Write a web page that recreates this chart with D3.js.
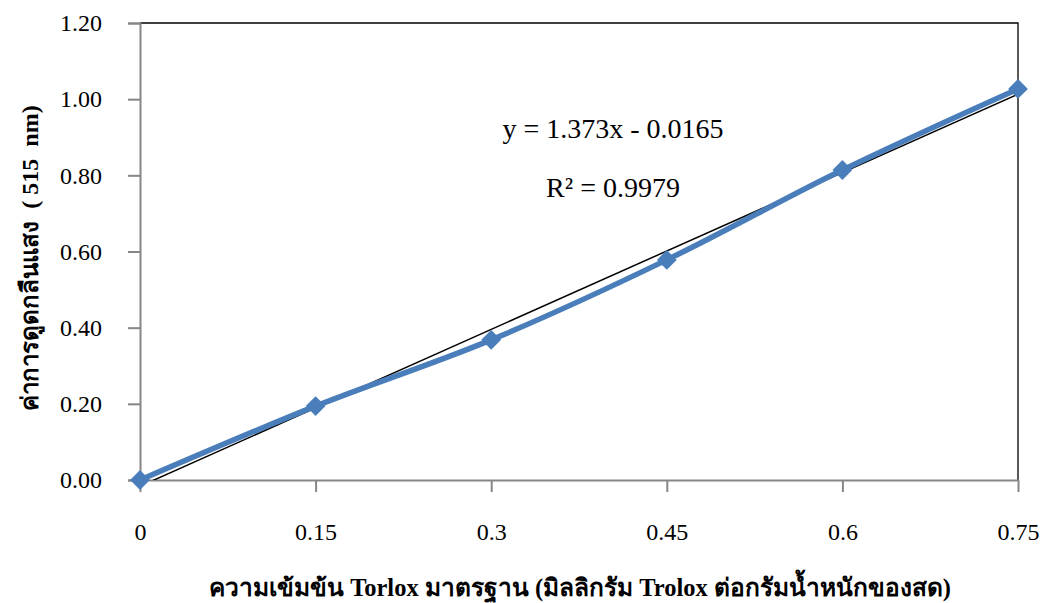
<!DOCTYPE html>
<html>
<head>
<meta charset="utf-8">
<script src="https://cdn.jsdelivr.net/npm/d3@7"></script>
<style>
  body { margin: 0; background: #fff; }
  svg text { font-family: "Liberation Serif", "Times New Roman", serif; fill: #000; }
</style>
</head>
<body>
<script>
// data
const concentrations = [0, 0.15, 0.3, 0.45, 0.6, 0.75];
const absorbance = [0.0, 0.194, 0.368, 0.578, 0.814, 1.027];
const xTickLabels = ['0', '0.15', '0.3', '0.45', '0.6', '0.75'];
const yTicks = [0, 0.2, 0.4, 0.6, 0.8, 1.0, 1.2];
const trendSlope = 1.373;
const trendIntercept = -0.0165;
const equationText = 'y = 1.373x - 0.0165';
const r2Text = 'R² = 0.9979';
const xTitle = 'ความเข้มข้น Torlox มาตรฐาน (มิลลิกรัม Trolox ต่อกรัมน้ำหนักของสด)';
const yTitle = 'ค่าการดูดกลืนแสง\u00a0\u00a0(\u00a0515\u00a0\u00a0nm)';

const width = 1044, height = 603;
const margins = { top: 23, right: 26, bottom: 123, left: 140 };
const pw = width - margins.left - margins.right;
const ph = height - margins.top - margins.bottom;

const svg = d3.select('body').append('svg')
    .attr('width', width)
    .attr('height', height);

const g = svg.append('g')
    .attr('transform', `translate(${margins.left}, ${margins.top})`);

const x = d3.scaleLinear().domain([0, 0.75]).range([0, pw]);
const y = d3.scaleLinear().domain([0, 1.2]).range([ph, 0]);

// plot frame (top and right in black)
g.append('path')
    .attr('d', `M0,0H${pw}V${ph}`)
    .attr('fill', 'none')
    .attr('stroke', '#000')
    .attr('stroke-width', 1.3);

// y axis
const yAxis = g.append('g')
    .call(d3.axisLeft(y).tickValues(yTicks).tickFormat(d3.format('.2f')).tickSize(12).tickPadding(26));
yAxis.select('.domain').attr('stroke', '#868686').attr('stroke-width', 2);
yAxis.selectAll('.tick line').attr('stroke', '#868686').attr('stroke-width', 2);
yAxis.selectAll('text').attr('font-size', 24).attr('font-family', '"Liberation Serif", serif');

// x axis
const xAxis = g.append('g')
    .attr('transform', `translate(0,${ph})`)
    .call(d3.axisBottom(x).tickValues(concentrations).tickFormat((d, i) => xTickLabels[i]).tickSize(12).tickSizeOuter(0).tickPadding(31));
xAxis.select('.domain').attr('stroke', '#868686').attr('stroke-width', 2);
xAxis.selectAll('.tick line').attr('stroke', '#868686').attr('stroke-width', 2);
xAxis.selectAll('text').attr('font-size', 24).attr('font-family', '"Liberation Serif", serif');

// trendline, clipped to plot area
g.append('clipPath').attr('id', 'plot-clip')
    .append('rect').attr('width', pw).attr('height', ph);

g.append('line')
    .attr('clip-path', 'url(#plot-clip)')
    .attr('x1', x(0)).attr('y1', y(trendIntercept))
    .attr('x2', x(0.75)).attr('y2', y(trendSlope * 0.75 + trendIntercept))
    .attr('stroke', '#000')
    .attr('stroke-width', 1.5);

// data series
const pts = concentrations.map((c, i) => [c, absorbance[i]]);
const line = d3.line().x(d => x(d[0])).y(d => y(d[1])).curve(d3.curveCatmullRom.alpha(0.5));

g.append('path')
    .datum(pts)
    .attr('d', line)
    .attr('fill', 'none')
    .attr('stroke', '#4a7ebb')
    .attr('stroke-width', 5.5)
    .attr('stroke-linejoin', 'round');

g.selectAll('path.marker')
    .data(pts)
    .enter().append('path')
    .attr('class', 'marker')
    .attr('d', d3.symbol().type(d3.symbolDiamond2).size(250))
    .attr('transform', d => `translate(${x(d[0])},${y(d[1])})`)
    .attr('fill', '#4a7ebb');

// equation labels
g.append('text')
    .attr('x', 473).attr('y', 115)
    .attr('text-anchor', 'middle')
    .attr('font-size', 28)
    .text(equationText);
g.append('text')
    .attr('x', 473).attr('y', 174)
    .attr('text-anchor', 'middle')
    .attr('font-size', 28)
    .text(r2Text);

// axis titles
svg.append('text')
    .attr('x', 580).attr('y', 596)
    .attr('text-anchor', 'middle')
    .attr('font-size', 24.5)
    .attr('font-weight', 'bold')
    .text(xTitle);

svg.append('text')
    .attr('transform', 'translate(38, 258) rotate(-90)')
    .attr('text-anchor', 'middle')
    .attr('font-size', 24)
    .attr('font-weight', 'bold')
    .text(yTitle);
</script>
</body>
</html>
